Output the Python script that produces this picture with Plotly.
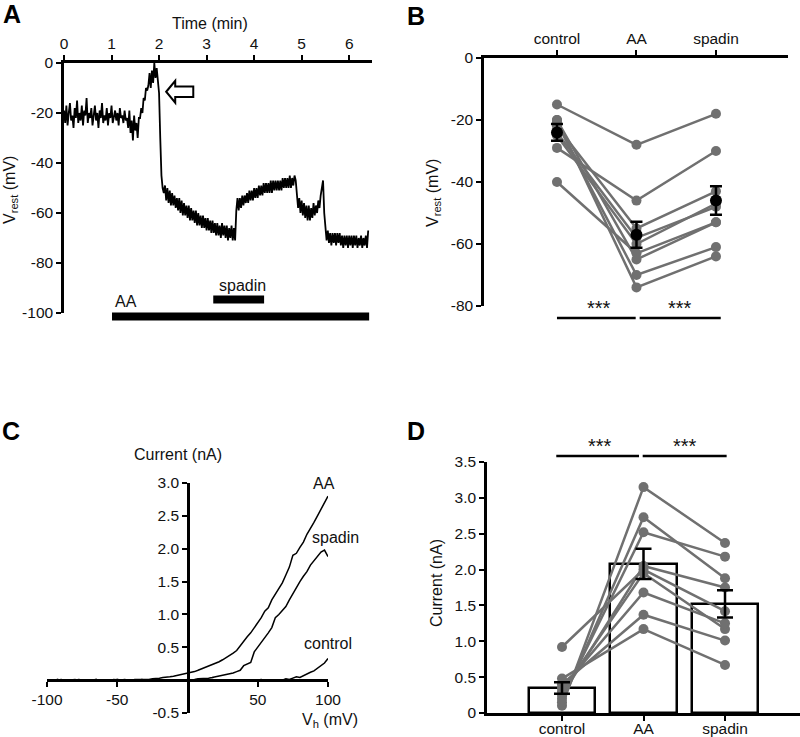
import plotly.graph_objects as go

W, H = 800, 737
def px(x): return x / W
def py(y): return 1 - y / H

# ---------------- Panel A data: Vrest trace (mV), sampled every 0.025 min ----------------
dt_min = 0.025
vrest_trace = [
    -19,-24,-17,-25,-20,-16,-23,-21,-26,-18,
    -22,-15,-24,-20,-23,-17,-25,-19,-21,-14,
    -24,-20,-22,-18,-25,-21,-17,-23,-20,-26,
    -19,-22,-16,-24,-21,-23,-18,-25,-20,-22,
    -17,-24,-21,-19,-23,-20,-25,-18,-22,-21,
    -24,-19,-23,
    -22,-26,-19,-28,-23,-31,-21,-27,-24,-30,-22,
    -22,-18,-20,-14,-15,-10,-11,
    -9,-4,-10,-3,-8,0,-6,-2,-9,
    -12,-30,-45,-50,-52,
    -49,-55,-50,-56,-51,-57,-52,-57,-53,-58,
    -54,-59,-54,-60,-55,-61,-56,-61,-57,-62,
    -57,-63,-58,-63,-59,-64,-59,-65,-60,-65,
    -61,-66,-61,-66,-62,-67,-62,-67,-63,-68,
    -63,-68,-64,-69,-64,-69,-65,-70,-64,-69,
    -65,-70,-65,-71,-66,-70,-65,-71,-66,-71,
    -59,-54,-59,-54,-58,-53,-57,-53,-56,-52,
    -56,-51,-55,-51,-55,-50,-54,-50,-54,-49,
    -53,-49,-53,-48,-52,-48,-52,-48,-52,-47,
    -52,-47,-51,-47,-51,-47,-51,-47,-51,-46,
    -50,-46,-50,-46,-50,-45,-50,-46,-49,-45,
    -47,-55,-58,-54,-60,-55,-61,-56,-62,-57,-63,-57,-63,-58,-62,-56,-61,-57,-60,-55,-58,-53,-50,-47,
    -60,-67,-71,-67,-72,-68,-73,-68,-72,-68,-73,-68,-72,-68,-73,-69,-74,-69,-73,-69,
    -74,-69,-73,-69,-74,-69,-73,-69,-74,-70,-73,-69,-74,-70,-73,-69,-74,-67,
]
time_min = [i * dt_min for i in range(len(vrest_trace))]
time_ticks = [0, 1, 2, 3, 4, 5, 6]
vrest_ticks = [0, -20, -40, -60, -80, -100]
aa_period = [1.01, 6.42]
spadin_period = [3.14, 4.21]
arrow_t, arrow_v = 2.15, -11.5

# ---------------- Panel B data: Vrest per cell (mV) ----------------
conditions = ["control", "AA", "spadin"]
b_control = [-15, -29, -40, -20, -21, -22, -24, -25, -20]
b_aa      = [-28, -46, -63, -74, -70, -55, -58, -60, -65]
b_spadin  = [-18, -30, -53, -64, -61, -43, -48, -47, -53]
b_mean = [-24, -57, -46]
b_sem  = [2.7, 4.2, 4.6]
b_ticks = [0, -20, -40, -60, -80]

# ---------------- Panel C data: I-V ramps ----------------
vh_mv = [-100 + 2.5 * i for i in range(81)]
iv_aa = [
    0.00,-0.01,0.00,0.01,0.00,-0.01,0.00,0.00,0.01,-0.01,
    0.00,0.00,-0.01,0.00,0.01,0.00,0.00,-0.01,0.00,0.01,
    0.00,0.00,0.01,0.00,0.00,0.01,0.01,0.00,0.01,0.01,0.02,
    0.02,0.03,0.04,0.04,0.05,0.06,0.07,0.08,0.09,0.10,
    0.12,0.13,0.15,0.17,0.19,0.21,0.23,0.26,0.28,0.31,
    0.34,0.37,0.41,0.45,0.52,0.60,0.66,0.72,0.80,0.86,
    0.95,1.05,1.10,1.22,1.30,1.40,1.48,1.60,1.72,1.90,
    1.93,2.02,2.10,2.22,2.30,2.40,2.50,2.60,2.68,2.80,
]
iv_spadin = [
    0.00,0.00,-0.01,0.00,0.01,0.00,-0.01,0.00,0.00,0.01,
    0.00,-0.01,0.00,0.00,0.01,0.00,0.00,-0.01,0.00,0.00,
    0.01,0.00,0.00,-0.01,0.00,0.00,0.01,0.00,0.00,0.00,
    0.00,0.01,0.00,0.00,0.00,0.01,0.00,0.00,0.01,0.00,
    0.00,
    0.01,0.01,0.02,0.02,0.03,0.03,0.04,0.05,0.06,0.07,
    0.08,0.09,0.11,0.13,0.15,0.22,0.24,0.27,0.43,0.50,
    0.58,0.65,0.72,0.80,0.95,1.00,1.06,1.12,1.22,1.32,
    1.40,1.50,1.58,1.65,1.75,1.82,1.88,1.95,1.98,1.88,
]
iv_control = [
    0.00,-0.01,0.00,0.01,0.00,0.00,-0.01,0.00,0.00,0.01,
    0.00,0.00,-0.01,0.00,0.00,0.01,0.00,-0.01,0.00,0.00,
    0.01,0.00,0.00,-0.01,0.00,0.00,0.00,0.01,0.00,-0.01,
    0.00,0.00,0.00,0.01,0.00,0.00,-0.01,0.00,0.00,0.00,
    0.01,0.00,0.00,0.00,-0.01,0.00,0.00,0.01,0.00,0.00,
    0.00,-0.01,0.00,0.00,0.01,0.00,0.00,0.00,-0.01,0.00,
    0.00,0.01,0.00,0.00,0.00,
    0.00,0.01,0.00,0.02,0.01,0.03,0.05,0.04,0.07,0.09,0.12,0.14,0.18,0.22,0.26,0.33,
]
c_xticks = [-100, -50, 50, 100]
c_yticks = [-0.5, 0.5, 1.0, 1.5, 2.0, 2.5, 3.0]

# ---------------- Panel D data: current per cell (nA) ----------------
d_control = [0.92, 0.10, 0.15, 0.20, 0.25, 0.30, 0.35, 0.40, 0.48]
d_aa      = [2.00, 3.15, 2.73, 2.52, 2.05, 1.95, 1.68, 1.37, 1.17]
d_spadin  = [1.42, 2.37, 1.88, 2.18, 1.75, 1.17, 1.25, 1.01, 0.67]
d_mean = [0.35, 2.08, 1.52]
d_sem  = [0.08, 0.21, 0.19]
d_ticks = [0, 0.5, 1.0, 1.5, 2.0, 2.5, 3.0, 3.5]

# ---------------- styling ----------------
FONT = "Liberation Sans, Arial, sans-serif"
TXT = "#111111"
GRAY = "#707070"
AXW = 2.5
TS = 15.5

def lbl(v, fmt="{:g}"):
    return fmt.format(v).replace("\u2212", "-")

def connect(a, b, c):
    xs, ys = [], []
    for v0, v1, v2 in zip(a, b, c):
        xs += [0, 1, 2, None]
        ys += [v0, v1, v2, None]
    return xs, ys

fig = go.Figure()

# A trace
fig.add_trace(go.Scatter(x=time_min, y=vrest_trace, mode="lines",
                         line=dict(color="black", width=1.8),
                         xaxis="x", yaxis="y", hoverinfo="skip", showlegend=False))

# B individual cells
bx, by = connect(b_control, b_aa, b_spadin)
fig.add_trace(go.Scatter(x=bx, y=by, mode="lines+markers",
                         line=dict(color=GRAY, width=2.5),
                         marker=dict(color=GRAY, size=10),
                         xaxis="x2", yaxis="y2", hoverinfo="skip", showlegend=False))
fig.add_trace(go.Scatter(x=[0, 1, 2], y=b_mean, mode="markers",
                         marker=dict(color="black", size=12),
                         error_y=dict(type="data", array=b_sem, color="black", thickness=2.5, width=6),
                         xaxis="x2", yaxis="y2", hoverinfo="skip", showlegend=False))

# C traces
for ys in (iv_aa, iv_spadin, iv_control):
    fig.add_trace(go.Scatter(x=vh_mv, y=ys, mode="lines",
                             line=dict(color="black", width=1.5),
                             xaxis="x3", yaxis="y3", hoverinfo="skip", showlegend=False))

# D bars
fig.add_trace(go.Bar(x=[0, 1, 2], y=d_mean, width=0.81,
                     marker=dict(color="white", line=dict(color="black", width=2.5)),
                     xaxis="x4", yaxis="y4", hoverinfo="skip", showlegend=False))
dx, dy = connect(d_control, d_aa, d_spadin)
fig.add_trace(go.Scatter(x=dx, y=dy, mode="lines+markers",
                         line=dict(color=GRAY, width=2.5),
                         marker=dict(color=GRAY, size=10),
                         xaxis="x4", yaxis="y4", hoverinfo="skip", showlegend=False))
fig.add_trace(go.Scatter(x=[0, 1, 2], y=d_mean, mode="markers",
                         marker=dict(color="rgba(0,0,0,0)", size=1),
                         error_y=dict(type="data", array=d_sem, color="black", thickness=2.5, width=8),
                         xaxis="x4", yaxis="y4", hoverinfo="skip", showlegend=False))

tickfont = dict(family=FONT, size=TS, color=TXT)
common = dict(showline=True, linecolor="black", linewidth=AXW, ticks="outside",
              ticklen=5, tickwidth=2, tickcolor="black", showgrid=False,
              zeroline=False, tickfont=tickfont, fixedrange=True, automargin=False)

fig.update_layout(
    width=W, height=H, margin=dict(l=0, r=0, t=0, b=0, pad=0, autoexpand=False),
    paper_bgcolor="white", plot_bgcolor="rgba(0,0,0,0)",
    bargap=0,
    xaxis=dict(domain=[px(64), px(372)], range=[0, 6.48], side="top", anchor="y",
               tickvals=time_ticks, ticktext=[lbl(v) for v in time_ticks], **common),
    yaxis=dict(domain=[py(313), py(63)], range=[-100, 0], anchor="x",
               tickvals=vrest_ticks, ticktext=[lbl(v) for v in vrest_ticks], **common),
    xaxis2=dict(domain=[px(484), px(788)], range=[-0.918, 2.906], side="top", anchor="y2",
                tickvals=[0, 1, 2], ticktext=conditions, **common),
    yaxis2=dict(domain=[py(306), py(58)], range=[-80, 0], anchor="x2",
                tickvals=b_ticks, ticktext=[lbl(v) for v in b_ticks], **common),
    xaxis3=dict(domain=[px(47), px(328)], range=[-100, 100], anchor="free", position=py(680),
                tickvals=c_xticks, ticktext=[lbl(v) for v in c_xticks], **common),
    yaxis3=dict(domain=[py(713), py(483)], range=[-0.5, 3.0], anchor="free", position=px(188),
                tickvals=c_yticks, ticktext=[lbl(v, "{:.1f}") for v in c_yticks], **common),
    xaxis4=dict(domain=[px(487), 1.0], range=[-0.92, 2.92], anchor="y4",
                tickvals=[0, 1, 2], ticktext=conditions, ticklabelstandoff=-5, **common),
    yaxis4=dict(domain=[py(713), py(462)], range=[0, 3.5], anchor="x4",
                tickvals=d_ticks, ticktext=["0"] + [lbl(v, "{:.1f}") for v in d_ticks[1:]],
                **common),
)

shapes = []
# A treatment bars
shapes.append(dict(type="line", xref="x", yref="paper", x0=aa_period[0], x1=aa_period[1],
                   y0=py(316.5), y1=py(316.5), line=dict(color="black", width=8)))
shapes.append(dict(type="line", xref="x", yref="paper", x0=spadin_period[0], x1=spadin_period[1],
                   y0=py(299.5), y1=py(299.5), line=dict(color="black", width=8)))
# A hollow arrow
ah, bh, hx, tx = 4.4, 2.1, arrow_t + 0.19, arrow_t + 0.57
shapes.append(dict(type="path", xref="x", yref="y",
                   path=(f"M {arrow_t},{arrow_v} L {hx},{arrow_v+ah} L {hx},{arrow_v+bh} "
                         f"L {tx},{arrow_v+bh} L {tx},{arrow_v-bh} L {hx},{arrow_v-bh} "
                         f"L {hx},{arrow_v-ah} Z"),
                   fillcolor="white", line=dict(color="black", width=2)))
# B significance lines
shapes.append(dict(type="line", xref="x2", yref="paper", x0=0, x1=0.99, y0=py(318), y1=py(318),
                   line=dict(color="black", width=2.5)))
shapes.append(dict(type="line", xref="x2", yref="paper", x0=1.04, x1=2.06, y0=py(318), y1=py(318),
                   line=dict(color="black", width=2.5)))
# D significance lines
shapes.append(dict(type="line", xref="x4", yref="paper", x0=-0.07, x1=0.945, y0=py(456), y1=py(456),
                   line=dict(color="black", width=2.5)))
shapes.append(dict(type="line", xref="x4", yref="paper", x0=0.99, x1=2.02, y0=py(456), y1=py(456),
                   line=dict(color="black", width=2.5)))
fig.update_layout(shapes=shapes)

def ann(text, x, y, size=16, bold=False, angle=0, xanchor="center", yanchor="middle"):
    t = f"<b>{text}</b>" if bold else text
    return dict(text=t, x=x, y=y, xref="paper", yref="paper", showarrow=False,
                xanchor=xanchor, yanchor=yanchor, textangle=angle,
                font=dict(family=FONT, size=size, color=TXT if not bold else "black"))

anns = [
    ann("A", px(1), py(14), size=25, bold=True, xanchor="left"),
    ann("B", px(405), py(16), size=25, bold=True, xanchor="left"),
    ann("C", px(0), py(431), size=25, bold=True, xanchor="left"),
    ann("D", px(405), py(431), size=25, bold=True, xanchor="left"),
    ann("Time (min)", px(210), py(24)),
    ann("V<sub>rest</sub> (mV)", px(11), py(190), angle=-90),
    ann("AA", px(126), py(301)),
    ann("spadin", px(242), py(285)),
    ann("V<sub>rest</sub> (mV)", px(433), py(193), angle=-90),
    ann("***", px(599), py(308), size=20),
    ann("***", px(680), py(308), size=20),
    ann("Current (nA)", px(178), py(454)),
    ann("V<sub>h</sub> (mV)", px(330), py(720)),
    ann("AA", px(324), py(483)),
    ann("spadin", px(335), py(537)),
    ann("control", px(328), py(643)),
    ann("Current (nA)", px(436), py(583), angle=-90),
    ann("***", px(600), py(446), size=20),
    ann("***", px(685), py(446), size=20),
]
fig.update_layout(annotations=anns)

fig.write_html("out.html",
               config={"displayModeBar": False},
               post_script="document.body.style.margin='0px';document.body.style.padding='0px';")
